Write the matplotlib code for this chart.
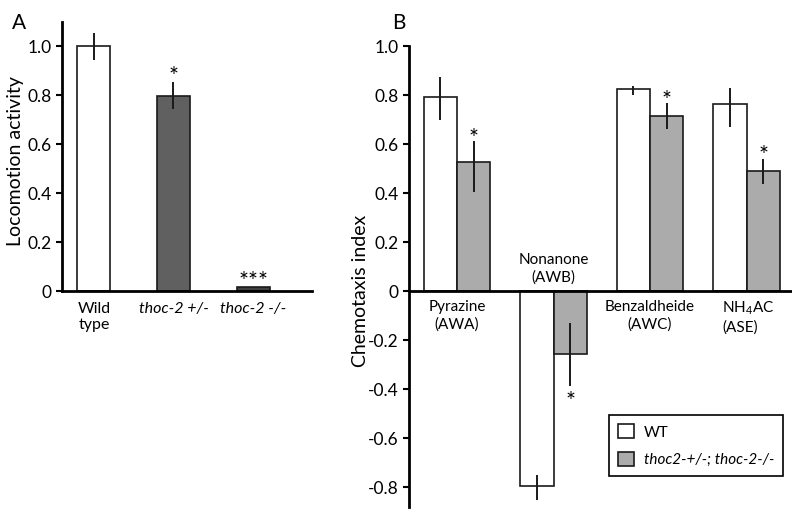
import matplotlib
matplotlib.use('Agg')
import matplotlib.pyplot as plt
import numpy as np

plt.rcParams['font.family'] = ['Lato', 'DejaVu Sans']
plt.rcParams['mathtext.fontset'] = 'custom'
plt.rcParams['mathtext.rm'] = 'Lato'
plt.rcParams['mathtext.it'] = 'Lato:italic'

# panel A data
loco_labels = ['Wild\ntype', 'thoc-2 +/-', 'thoc-2 -/-']
loco_values = [1.0, 0.799, 0.015]
loco_err = [0.056, 0.056, 0.0]
loco_colors = ['white', '#606060', '#404040']
loco_stars = ['', '*', '***']

# panel B data
odorants = ['Pyrazine\n(AWA)', 'Nonanone\n(AWB)', 'Benzaldheide\n(AWC)', 'NH$_4$AC\n(ASE)']
wt_values = [0.793, -0.796, 0.824, 0.762]
wt_err_up = [0.082, 0.048, 0.014, 0.065]
wt_err_down = [0.093, 0.054, 0.022, 0.091]
mut_values = [0.528, -0.257, 0.716, 0.491]
mut_err_up = [0.083, 0.129, 0.050, 0.050]
mut_err_down = [0.124, 0.129, 0.053, 0.053]

edge = '#1a1a1a'
fig = plt.figure(figsize=(8, 5.16), dpi=100)

# ---- panel A ----
axA = fig.add_axes([0.0775, 0.436, 0.3125, 0.5213])
x = np.arange(len(loco_values))
axA.bar(x, loco_values, width=0.415, color=loco_colors, edgecolor=edge, linewidth=1.2, zorder=2)
axA.errorbar(x, loco_values, yerr=loco_err, fmt='none', ecolor=edge, elinewidth=1.4, capsize=0, zorder=3)
for i in range(len(x)):
    if loco_stars[i]:
        axA.text(x[i], loco_values[i] + loco_err[i] - 0.02, loco_stars[i], ha='center', va='bottom',
                 fontsize=17)
axA.set_xlim(-0.40, 2.74)
axA.set_ylim(0, 1.1)
axA.set_yticks([0, 0.2, 0.4, 0.6, 0.8, 1.0])
axA.set_yticklabels(['0', '0.2', '0.4', '0.6', '0.8', '1.0'])
axA.set_xticks(x)
axA.set_xticklabels(loco_labels, fontsize=11.5)
for lab in axA.get_xticklabels():
    lab.set_multialignment('center')
for lab in axA.get_xticklabels()[1:]:
    lab.set_style('italic')
axA.tick_params(axis='x', length=0, pad=8)
axA.tick_params(axis='y', length=4, width=1.5, labelsize=12.5)
axA.set_ylabel('Locomotion activity', fontsize=14)
axA.yaxis.set_label_coords(-0.152, 0.483)
for s in ['top', 'right']:
    axA.spines[s].set_visible(False)
for s in ['left', 'bottom']:
    axA.spines[s].set_linewidth(2.0)
fig.text(0.015, 0.975, 'A', fontsize=15, va='top')

# ---- panel B ----
axB = fig.add_axes([0.51125, 0.01744, 0.47875, 0.8934])
g = np.arange(len(odorants))
w = 0.345
axB.bar(g - w / 2, wt_values, width=w, color='white', edgecolor=edge, linewidth=1.2, zorder=2, label='WT')
axB.bar(g + w / 2, mut_values, width=w, color='#ababab', edgecolor=edge, linewidth=1.2, zorder=2,
        label='thoc2-+/-; thoc-2-/-')
axB.errorbar(g - w / 2, wt_values, yerr=[wt_err_down, wt_err_up], fmt='none', ecolor=edge, elinewidth=1.4,
             capsize=0, zorder=3)
axB.errorbar(g + w / 2, mut_values, yerr=[mut_err_down, mut_err_up], fmt='none', ecolor=edge, elinewidth=1.4,
             capsize=0, zorder=3)
for i in range(len(g)):
    if mut_values[i] > 0:
        axB.text(g[i] + w / 2, mut_values[i] + mut_err_up[i] - 0.03, '*', ha='center', va='bottom', fontsize=17)
    else:
        axB.text(g[i] + w / 2, mut_values[i] - mut_err_down[i] - 0.105, '*', ha='center', va='bottom',
                 fontsize=17)
    if wt_values[i] < 0:
        axB.text(g[i], 0.025, odorants[i], ha='center', va='bottom', fontsize=11, linespacing=1.3)
    elif i == 3:
        axB.text(g[i] - 0.25, -0.035, odorants[i], ha='left', va='top', fontsize=11, linespacing=1.3)
    else:
        axB.text(g[i], -0.035, odorants[i], ha='center', va='top', fontsize=11, linespacing=1.3)
axB.set_xlim(-0.497, 3.47)
axB.set_ylim(-0.88, 1.0)
yt = [-0.8, -0.6, -0.4, -0.2, 0, 0.2, 0.4, 0.6, 0.8, 1.0]
axB.set_yticks(yt)
axB.set_yticklabels(['0' if v == 0 else f'{v:.1f}' for v in yt])
axB.set_xticks([])
axB.tick_params(axis='y', length=4, width=1.5, labelsize=12.5)
axB.set_ylabel('Chemotaxis index', fontsize=14)
axB.yaxis.set_label_coords(-0.105, 0.4685)
for s in ['top', 'right', 'bottom']:
    axB.spines[s].set_visible(False)
axB.spines['left'].set_linewidth(2.0)
axB.axhline(0, color='black', linewidth=2.0, zorder=4)
leg = axB.legend(loc='lower right', bbox_to_anchor=(0.997, 0.05), fancybox=False, edgecolor='black',
                 fontsize=11, handlelength=1.05, handleheight=1.05, borderpad=0.6, labelspacing=0.8,
                 handletextpad=0.65, framealpha=1)
leg.get_frame().set_linewidth(1.2)
leg.get_texts()[1].set_style('italic')
fig.text(0.49, 0.975, 'B', fontsize=15, va='top')

fig.savefig('out.png', dpi=100)
